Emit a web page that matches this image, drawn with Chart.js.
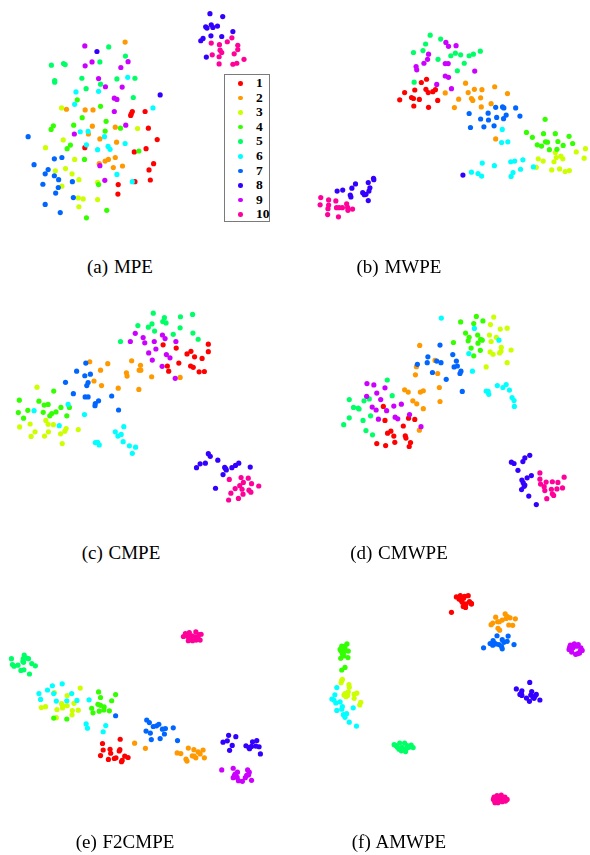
<!DOCTYPE html>
<html>
<head>
<meta charset="utf-8">
<script src="https://cdn.jsdelivr.net/npm/chart.js@4/dist/chart.umd.min.js"></script>
<style>
html,body{margin:0;padding:0;background:#fff;}
#page{position:relative;width:590px;height:855px;overflow:hidden;background:#fff;}
.panel{position:absolute;width:300px;height:240px;}
.cap{position:absolute;width:240px;text-align:center;font-family:"Liberation Serif","Times New Roman",serif;font-size:19px;line-height:19px;color:#000;z-index:5;white-space:pre;word-spacing:1px;}
#legend{position:absolute;left:224px;top:74px;width:44px;height:146px;border:1px solid #7a7a7a;background:#fff;z-index:6;}
.li{position:absolute;left:0;width:44px;height:14px;font-family:"Liberation Serif","Times New Roman",serif;font-weight:bold;font-size:13.5px;line-height:14px;}
.li .dot{position:absolute;left:13px;top:5px;width:4.5px;height:4.5px;border-radius:50%;}
.li .lab{position:absolute;left:31px;top:0;}
</style>
</head>
<body>
<div id="page">
  <div class="panel" style="left:0;top:0"><canvas id="pa" width="300" height="240"></canvas></div>
  <div class="panel" style="left:290px;top:0"><canvas id="pb" width="300" height="240"></canvas></div>
  <div class="panel" style="left:0;top:290px"><canvas id="pc" width="300" height="240"></canvas></div>
  <div class="panel" style="left:290px;top:290px"><canvas id="pd" width="300" height="240"></canvas></div>
  <div class="panel" style="left:0;top:600px"><canvas id="pe" width="300" height="240"></canvas></div>
  <div class="panel" style="left:290px;top:580px"><canvas id="pf" width="300" height="240"></canvas></div>
  <div id="legend"></div>
</div>
<script>
// class labels and colours (hsv(10))
const classLabels = ['1','2','3','4','5','6','7','8','9','10'];
const classColors = ['#FF0000','#FF9900','#CCFF00','#33FF00','#00FF66','#00FFFF','#0066FF','#3300FF','#CC00FF','#FF0099'];
const panelCaptions = ['(a) MPE','(b) MWPE','(c) CMPE','(d) CMWPE','(e) F2CMPE','(f) AMWPE'];

// embedding coordinates per method, one list per class (1..10)
const mpe = [
 [[396,334],[393,341],[391,346],[435,334],[445,385],[472,420],[251,445],[438,448],[402,458],[461,494],[447,513],[451,544],[404,549],[353,558],[352,587]],
 [[374,121],[195,327],[252,329],[276,329],[274,379],[344,382],[262,403],[297,418],[348,428],[344,475],[323,481],[313,486],[295,494],[338,506],[366,501]],
 [[180,323],[412,386],[185,421],[131,445],[220,481],[192,509],[161,516],[212,525],[233,543],[181,563],[290,551],[231,599],[246,602],[290,604],[233,626]],
 [[228,298],[299,318],[243,353],[155,378],[148,389],[217,376],[316,364],[313,394],[360,385],[207,437],[197,448],[250,481],[293,558],[318,637],[256,660],[416,455]],
 [[324,136],[375,164],[149,192],[186,187],[191,190],[297,182],[159,239],[159,244],[242,232],[349,234],[404,232],[299,250],[255,264],[399,291]],
 [[382,229],[224,274],[293,272],[220,312],[459,323],[237,396],[261,395],[311,411],[256,436],[322,441],[328,450],[290,451],[374,432],[349,527],[396,549]],
 [[78,411],[96,497],[181,475],[158,479],[139,512],[130,525],[158,531],[171,543],[123,557],[213,549],[170,567],[162,584],[216,598],[130,619],[176,644]],
 [[633,34],[672,43],[620,74],[624,78],[637,68],[642,76],[656,72],[605,117],[612,110],[636,102],[669,104],[703,89],[622,167],[288,150],[481,283]],
 [[251,133],[273,182],[252,194],[383,181],[361,199],[293,233],[314,258],[365,259],[341,293],[349,297],[341,334],[376,376],[219,403],[297,500],[312,545]],
 [[700,108],[686,120],[637,124],[662,129],[718,131],[718,144],[664,146],[669,153],[707,157],[640,160],[661,166],[737,174],[661,188],[703,189],[715,186]]
];
const mwpe = [
 [[409,235],[393,245],[373,268],[407,266],[414,276],[428,273],[436,267],[342,276],[327,298],[363,291],[369,294],[387,297],[443,300],[370,317],[415,321]],
 [[528,247],[617,258],[466,277],[536,276],[555,266],[578,267],[656,279],[507,296],[546,294],[550,300],[574,292],[606,310],[494,322],[576,320],[620,418]],
 [[802,460],[894,448],[866,458],[750,479],[765,486],[744,505],[798,488],[805,475],[819,471],[825,479],[890,477],[791,513],[815,510],[832,518],[845,515]],
 [[771,358],[714,398],[732,413],[766,402],[802,402],[844,410],[747,436],[760,440],[772,427],[778,428],[810,426],[826,438],[855,432],[784,451],[807,450]],
 [[420,100],[452,112],[406,127],[398,147],[369,153],[444,174],[483,163],[497,155],[513,160],[539,163],[552,158],[573,149],[524,186],[503,209],[371,244]],
 [[640,389],[638,429],[657,427],[579,492],[616,500],[666,488],[678,486],[703,482],[546,520],[566,524],[577,532],[673,521],[667,533],[696,511],[735,504]],
 [[620,321],[641,320],[645,323],[681,323],[539,340],[597,339],[574,357],[598,360],[623,352],[652,345],[644,356],[694,348],[543,383],[584,381],[615,378]],
 [[247,539],[248,543],[231,552],[192,556],[181,569],[153,575],[136,578],[236,568],[233,578],[214,583],[219,589],[224,588],[176,590],[178,596],[231,607],[520,529]],
 [[468,122],[476,134],[499,132],[415,158],[412,174],[401,186],[377,196],[379,206],[466,187],[475,187],[556,210],[466,225],[476,229],[440,251],[485,264]],
 [[86,598],[110,605],[132,608],[84,620],[110,621],[165,617],[134,629],[142,629],[152,629],[168,628],[169,637],[183,633],[108,632],[107,650],[140,657]]
];
const cmpe = [
 [[490,160],[530,170],[628,158],[628,181],[575,180],[563,188],[586,197],[609,202],[538,216],[503,225],[507,241],[574,225],[582,229],[600,243],[616,242]],
 [[266,212],[321,218],[394,209],[421,223],[417,238],[422,238],[378,246],[380,256],[299,238],[279,271],[302,285],[353,293],[416,297],[455,258],[542,260]],
 [[105,290],[132,392],[84,403],[52,412],[139,404],[155,405],[99,427],[87,441],[128,440],[140,427],[177,433],[190,425],[194,417],[231,420],[182,463]],
 [[156,302],[51,330],[111,333],[127,345],[139,343],[77,361],[48,368],[124,367],[150,371],[144,378],[163,366],[178,352],[204,352],[196,378],[64,385]],
 [[460,63],[494,77],[489,89],[499,93],[543,74],[580,67],[413,101],[445,106],[456,96],[464,118],[542,108],[521,128],[581,124],[597,143],[360,150]],
 [[96,362],[200,343],[250,374],[173,408],[370,411],[344,427],[352,440],[362,435],[368,457],[387,470],[406,474],[396,493],[283,460],[290,459],[295,467]],
 [[254,216],[226,241],[251,255],[268,250],[192,275],[261,276],[257,285],[216,310],[252,320],[261,320],[293,332],[283,340],[282,347],[333,317],[354,360]],
 [[628,494],[634,502],[603,525],[619,523],[592,537],[657,514],[678,536],[683,544],[700,537],[711,530],[721,523],[756,535],[673,558],[650,600],[681,540]],
 [[405,125],[429,138],[434,154],[390,150],[463,150],[488,130],[496,141],[529,150],[468,173],[446,185],[500,190],[511,200],[457,207],[487,226],[527,263]],
 [[692,573],[728,567],[750,569],[735,582],[724,592],[710,601],[731,603],[752,606],[760,586],[782,593],[697,615],[734,618],[758,612],[720,631],[690,636]]
];
const cmwpe = [
 [[277,349],[282,392],[354,385],[373,389],[338,409],[300,425],[290,431],[309,440],[344,439],[346,446],[360,460],[356,472],[257,463],[284,469],[312,459]],
 [[388,162],[435,208],[378,227],[375,252],[443,248],[448,291],[342,298],[353,305],[390,305],[399,301],[367,332],[379,341],[399,356],[450,334],[387,422]],
 [[614,75],[604,98],[634,112],[655,109],[601,130],[622,137],[606,150],[637,168],[636,180],[632,185],[667,176],[603,182],[612,189],[655,215],[591,228]],
 [[561,73],[581,87],[513,90],[553,95],[528,124],[539,137],[536,148],[565,130],[574,143],[579,146],[491,153],[566,155],[545,170],[573,177],[553,194]],
 [[289,268],[304,316],[173,328],[218,332],[234,326],[186,352],[200,354],[203,357],[238,378],[173,384],[215,392],[156,405],[224,423],[244,436]],
 [[454,78],[555,110],[630,146],[538,187],[549,241],[591,302],[599,312],[597,303],[625,285],[642,291],[652,282],[662,299],[670,322],[676,331],[677,349]],
 [[450,161],[489,190],[413,197],[411,215],[440,210],[453,215],[500,210],[493,228],[503,225],[514,241],[511,248],[427,245],[469,266],[381,220],[518,303]],
 [[668,520],[676,524],[703,518],[709,507],[724,499],[688,545],[700,575],[729,561],[716,568],[704,583],[707,594],[699,604],[721,624],[744,650],[709,590]],
 [[227,279],[248,283],[282,292],[257,308],[226,318],[269,328],[243,351],[255,360],[287,362],[309,348],[332,342],[313,382],[321,387],[262,388],[357,374],[392,411]],
 [[755,553],[755,572],[757,587],[774,581],[793,580],[810,582],[829,566],[768,595],[770,607],[790,603],[807,602],[824,599],[793,617],[797,622],[776,632]]
];
const f2cmpe = [
 [[359,419],[305,432],[307,452],[328,450],[330,462],[299,469],[323,481],[341,478],[346,476],[356,455],[358,451],[373,471],[383,475],[365,484],[363,488]],
 [[403,431],[436,447],[567,446],[584,451],[597,458],[612,452],[533,461],[544,463],[579,470],[590,476],[616,476],[560,480],[563,486],[603,464],[585,471]],
 [[237,262],[158,276],[197,285],[180,310],[183,316],[197,316],[218,309],[118,322],[131,319],[166,328],[183,323],[213,331],[231,330],[212,344],[164,353]],
 [[293,274],[345,282],[299,291],[333,301],[291,312],[299,315],[310,320],[272,324],[295,333],[309,329],[326,332],[276,338],[156,354],[196,357]],
 [[27,172],[66,161],[63,172],[73,170],[79,172],[30,190],[35,195],[47,192],[64,183],[89,187],[100,194],[56,208],[65,206],[82,219],[62,180]],
 [[152,255],[182,249],[137,268],[111,279],[156,279],[211,279],[116,297],[164,302],[196,301],[227,300],[264,298],[255,372],[259,385],[315,377],[307,396]],
 [[345,347],[440,360],[448,368],[460,380],[470,378],[477,373],[488,388],[497,386],[438,394],[451,400],[494,403],[481,417],[454,420],[521,384],[534,423]],
 [[690,407],[712,411],[673,428],[686,424],[701,438],[693,453],[743,439],[754,448],[763,427],[776,423],[773,440],[783,442],[787,464],[752,445],[760,441]],
 [[669,513],[704,508],[717,520],[748,513],[710,526],[704,537],[716,536],[745,530],[751,528],[720,546],[732,548],[760,545],[741,537],[708,530],[753,520]],
 [[558,95],[570,92],[590,90],[600,98],[606,97],[552,104],[565,104],[578,102],[588,105],[597,110],[567,117],[580,117],[591,115],[603,115],[575,108]]
];
const amwpe = [
 [[500,44],[514,54],[522,48],[536,40],[540,58],[546,66],[521,73],[528,76],[518,60],[508,50],[485,91],[530,65],[546,64],[525,42],[512,40]],
 [[620,106],[649,96],[656,104],[664,108],[680,111],[606,129],[626,120],[631,120],[660,130],[672,131],[627,140],[640,115],[652,110],[611,124],[632,146]],
 [[152,297],[148,307],[172,313],[173,321],[157,345],[163,350],[168,346],[188,342],[196,339],[188,355],[208,367],[205,375],[150,300],[170,335],[160,340]],
 [[150,195],[166,188],[155,200],[148,210],[156,213],[170,210],[152,219],[147,232],[169,230],[160,260],[150,268],[145,205],[160,195],[157,225],[162,208]],
 [[310,497],[327,492],[342,492],[325,511],[340,512],[348,508],[362,498],[368,506],[334,505],[320,505],[355,505],[345,518],[332,516],[316,500],[350,500]],
 [[135,322],[129,344],[120,357],[132,369],[145,366],[152,380],[135,392],[150,388],[185,384],[165,402],[160,413],[173,428],[195,440],[155,405],[126,360]],
 [[624,163],[658,164],[640,175],[612,178],[603,187],[611,192],[630,190],[645,183],[620,188],[638,196],[676,190],[583,200],[640,203],[615,185],[655,180]],
 [[724,306],[683,326],[700,332],[730,334],[744,343],[694,343],[700,346],[714,354],[723,364],[734,352],[740,348],[755,360],[698,339],[727,345],[737,355]],
 [[848,192],[860,188],[872,190],[880,200],[884,208],[876,216],[864,220],[852,213],[844,205],[846,198],[868,195],[856,200],[878,210],[870,218],[850,207]],
 [[615,658],[624,653],[637,652],[648,658],[655,665],[640,672],[627,675],[617,670],[613,665],[630,664],[645,668],[622,662],[635,660],[650,670],[618,675]]
];

const panels = [
 {id:'pa', data:mpe,    cap:panelCaptions[0], capX:120, capBase:273},
 {id:'pb', data:mwpe,   cap:panelCaptions[1], capX:399, capBase:273},
 {id:'pc', data:cmpe,   cap:panelCaptions[2], capX:121, capBase:559},
 {id:'pd', data:cmwpe,  cap:panelCaptions[3], capX:399, capBase:559},
 {id:'pe', data:f2cmpe, cap:panelCaptions[4], capX:125, capBase:848},
 {id:'pf', data:amwpe,  cap:panelCaptions[5], capX:399, capBase:848}
];

panels.forEach(p => {
  const datasets = p.data.map((pts, k) => ({
    label: classLabels[k],
    data: pts.map(v => ({x: v[0], y: v[1]})),
    backgroundColor: classColors[k],
    borderColor: classColors[k],
    borderWidth: 0,
    pointRadius: 2.6,
    pointHoverRadius: 2.6,
    clip: false,
    order: 10 - k
  }));
  new Chart(document.getElementById(p.id), {
    type: 'scatter',
    data: {datasets},
    options: {
      responsive: false,
      animation: false,
      events: [],
      layout: {padding: 0},
      plugins: {legend: {display: false}, tooltip: {enabled: false}, title: {display: false}},
      scales: {
        x: {type: 'linear', min: 0, max: 900, display: false},
        y: {type: 'linear', min: 0, max: 720, reverse: true, display: false}
      }
    }
  });
  const c = document.createElement('div');
  c.className = 'cap';
  c.textContent = p.cap;
  c.style.left = (p.capX - 120) + 'px';
  c.style.top = (p.capBase - 16) + 'px';
  document.getElementById('page').appendChild(c);
});

// legend of panel (a)
const lg = document.getElementById('legend');
classLabels.forEach((lab, k) => {
  const row = document.createElement('div');
  row.className = 'li';
  row.style.top = (1 + k * 14.6) + 'px';
  const d = document.createElement('span');
  d.className = 'dot';
  d.style.background = classColors[k];
  const t = document.createElement('span');
  t.className = 'lab';
  t.textContent = lab;
  row.appendChild(d); row.appendChild(t);
  lg.appendChild(row);
});
</script>
</body>
</html>
